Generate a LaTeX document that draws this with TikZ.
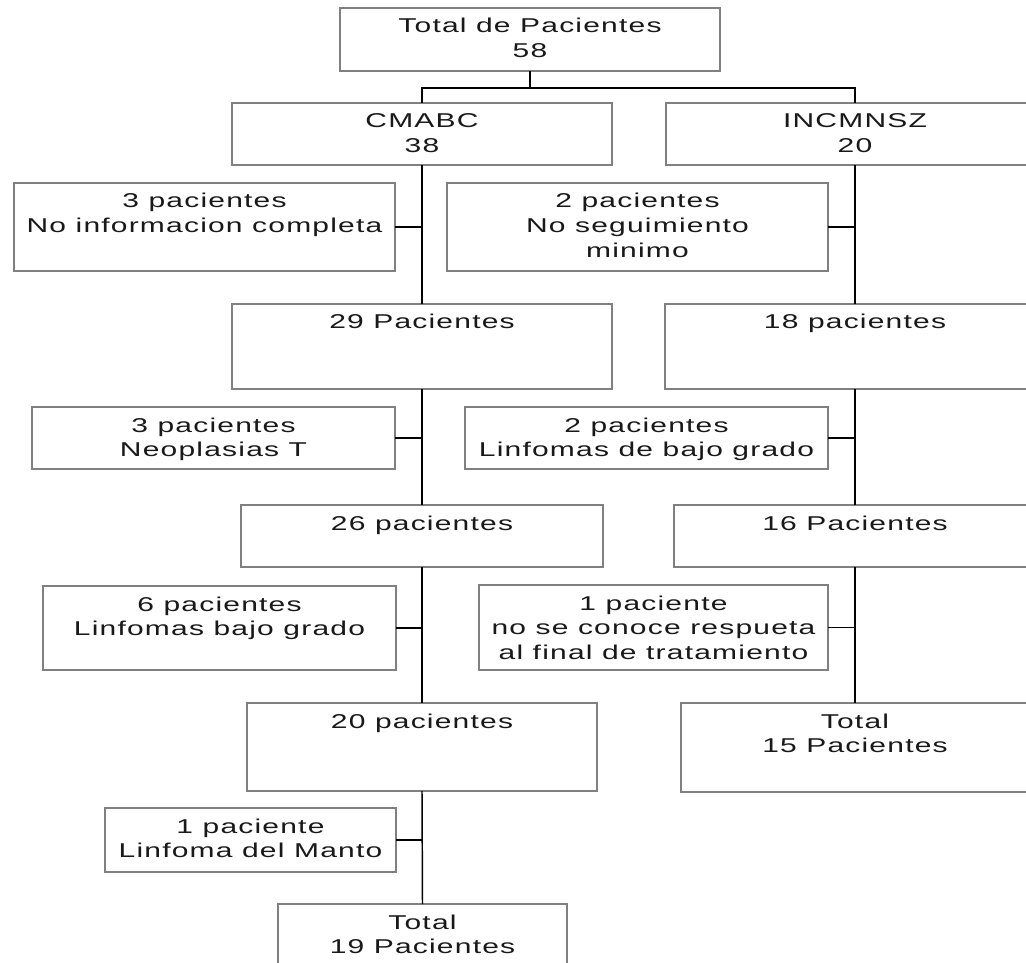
\documentclass[tikz,border=0pt]{standalone}
\usepackage{fontspec}
\newfontfamily\boxfont[FakeStretch=1.5,LetterSpace=6]{Liberation Sans}
\definecolor{boxgray}{RGB}{128,128,128}
\definecolor{textgray}{RGB}{25,25,25}
\newcommand\fbx[6]{%
  \pgfmathsetmacro\bw{(#4-#2)*0.75}%
  \pgfmathsetmacro\bh{(#5-#3)*0.75}%
  \node[boxstyle, minimum width=\bw pt, minimum height=\bh pt] (#1) at (#2,#3)
    {\parbox[c][\bh pt][t]{\bw pt}{\centering\rule{0pt}{18.75pt}#6\par}};%
}
\begin{document}
\begin{tikzpicture}[x=0.75pt,y=-0.75pt,
  boxstyle/.style={draw=boxgray, line width=0.9pt, inner sep=0pt, outer sep=0pt,
    anchor=north west, text=textgray,
    font=\boxfont\fontsize{15pt}{18.4pt}\selectfont},
  link/.style={draw=black, line width=1.1pt}]
\useasboundingbox (0,0) rectangle (1026,963);
\fill[white] (0,0) rectangle (1026,963);
\clip (0,0) rectangle (1026,963);

\fbx{top}{340}{8}{720}{71}{Total de Pacientes\\58}
\fbx{cmabc}{232}{103}{612}{165}{CMABC\\38}
\fbx{incm}{666}{103}{1044}{165}{INCMNSZ\\20}
\fbx{l1}{14}{183}{395}{271}{3 pacientes\\No informacion completa}
\fbx{r1}{447}{183}{828}{271}{2 pacientes\\No seguimiento\\minimo}
\fbx{c29}{232}{304}{612}{389}{29 Pacientes}
\fbx{c18}{665}{304}{1045}{389}{18 pacientes}
\fbx{l2}{32}{407}{395}{469}{3 pacientes\\Neoplasias T}
\fbx{r2}{465}{407}{828}{469}{2 pacientes\\Linfomas de bajo grado}
\fbx{c26}{241}{505}{603}{567}{26 pacientes}
\fbx{c16}{674}{505}{1036}{567}{16 Pacientes}
\fbx{l3}{43}{586}{396}{670}{6 pacientes\\Linfomas bajo grado}
\fbx{r3}{479}{585}{828}{670}{1 paciente\\no se conoce respueta\\al final de tratamiento}
\fbx{c20}{247}{703}{597}{791}{20 pacientes}
\fbx{t15}{681}{703}{1029}{792}{Total\\15 Pacientes}
\fbx{l4}{105}{808}{396}{872}{1 paciente\\Linfoma del Manto}
\fbx{t19}{278}{904}{567}{990}{Total\\19 Pacientes}

\draw[link] (top.south) -- ++(0,17) coordinate (jn);
\draw[link] (jn) -| (cmabc.north);
\draw[link] (jn) -| (incm.north);

\draw[link] (cmabc.south) -- (c29.north);
\draw[link] (c29.south) -- (c26.north);
\draw[link] (c26.south) -- (c20.north);
\draw[link] (c20.south) -- (t19.north);
\draw[link] (incm.south) -- (c18.north);
\draw[link] (c18.south) -- (c16.north);
\draw[link] (c16.south) -- (t15.north);

\draw[link] (l1.east) -- (l1.east -| cmabc.south);
\draw[link] (l2.east) -- (l2.east -| c29.south);
\draw[link] (l3.east) -- (l3.east -| c26.south);
\draw[link] (l4.east) -- (l4.east -| c20.south);
\draw[link] (r1.east) -- (r1.east -| incm.south);
\draw[link] (r2.east) -- (r2.east -| c18.south);
\draw[link] (r3.east) -- (r3.east -| c16.south);
\end{tikzpicture}
\end{document}
